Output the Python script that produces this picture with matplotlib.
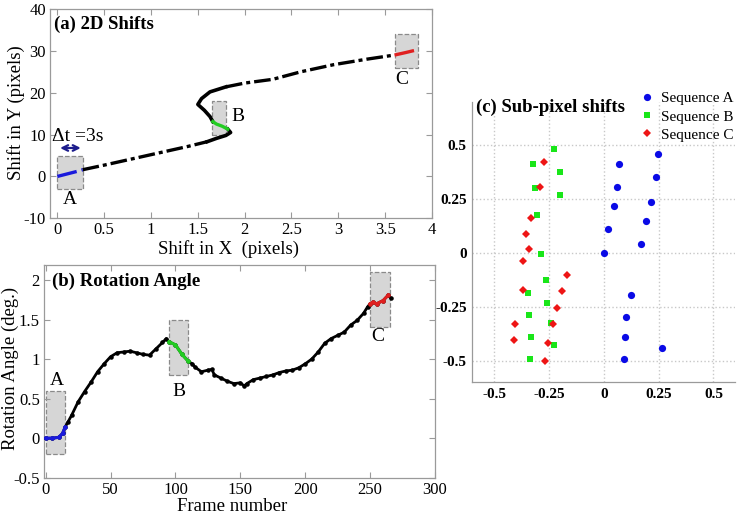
import numpy as np
import matplotlib
matplotlib.use("Agg")
import matplotlib.pyplot as plt
from matplotlib.patches import Rectangle

plt.rcParams["font.family"] = ["Liberation Serif", "DejaVu Serif"]
plt.rcParams["axes.unicode_minus"] = False

# --- (a) 2D shifts: trajectory pieces ---
a_blue_x = [0.0, 0.07, 0.14, 0.21, 0.27]
a_blue_y = [0.0, 0.4, 0.8, 1.2, 1.6]
a_black_low_x = [0.27, 0.5, 0.8, 1.1, 1.4, 1.6]
a_black_low_y = [1.6, 2.7, 4.2, 5.7, 7.2, 8.3]
a_bend_low_x = [1.6, 1.7, 1.8, 1.85, 1.82]
a_bend_low_y = [8.3, 9.1, 9.8, 10.5, 11.3]
a_green_x = [1.82, 1.76, 1.70, 1.66]
a_green_y = [11.3, 12.0, 12.5, 13.1]
a_bend_high_x = [1.66, 1.63, 1.57, 1.50, 1.54, 1.63, 1.8]
a_bend_high_y = [13.1, 14.3, 15.8, 17.2, 18.6, 20.2, 21.4]
a_black_high_x = [1.8, 2.0, 2.3, 2.6, 2.95, 3.3, 3.6]
a_black_high_y = [21.4, 22.3, 23.2, 25.0, 26.7, 28.0, 29.0]
a_red_x = [3.6, 3.72, 3.85]
a_red_y = [29.0, 29.6, 30.3]

# gray windows: (x0, x1, y0, y1), label position
a_boxes = {"A": (0.0, 0.27, -3, 5), "B": (1.65, 1.8, 10, 18), "C": (3.6, 3.85, 26, 34)}
a_labels = {"A": (0.135, -5.6), "B": (1.93, 14.3), "C": (3.68, 23.1)}

# --- (b) rotation angle ---
b_frames = [0, 5, 10, 13, 15, 17, 20, 25, 30, 35, 40, 45, 50, 55, 60, 65, 70, 75,
            80, 85, 90, 93, 95, 100, 105, 110, 113, 115, 120, 125, 128, 130, 135,
            140, 145, 150, 153, 155, 160, 165, 170, 175, 180, 185, 190, 195, 200,
            205, 210, 215, 220, 225, 230, 235, 240, 245, 248, 250, 252, 255, 260,
            264, 266]
b_angle = [0.0, 0.0, 0.01, 0.06, 0.14, 0.2, 0.29, 0.46, 0.59, 0.71, 0.84, 0.94,
           1.03, 1.08, 1.09, 1.10, 1.08, 1.06, 1.05, 1.13, 1.21, 1.26, 1.22, 1.18,
           1.06, 0.97, 0.94, 0.90, 0.84, 0.86, 0.87, 0.80, 0.76, 0.72, 0.69, 0.70,
           0.66, 0.69, 0.74, 0.76, 0.78, 0.80, 0.83, 0.85, 0.86, 0.89, 0.94, 1.00,
           1.09, 1.20, 1.26, 1.30, 1.34, 1.43, 1.49, 1.58, 1.66, 1.70, 1.72, 1.70,
           1.74, 1.81, 1.77]
b_boxes = {"A": (0, 15, -0.2, 0.6), "B": (95, 110, 0.8, 1.5), "C": (250, 265, 1.4, 2.1)}
b_labels = {"A": (9, 0.73), "B": (103, 0.59), "C": (256, 1.29)}

# --- (c) sub-pixel shifts ---
seqA_x = [0.248, 0.071, 0.238, 0.061, 0.214, 0.045, 0.194, 0.018, 0.171, 0.0,
          0.122, 0.102, 0.099, 0.265, 0.091]
seqA_y = [0.457, 0.412, 0.350, 0.304, 0.236, 0.217, 0.146, 0.110, 0.039, 0.0,
          -0.194, -0.297, -0.388, -0.443, -0.494]
seqB_x = [-0.227, -0.324, -0.202, -0.315, -0.202, -0.306, -0.288, -0.265, -0.345,
          -0.258, -0.341, -0.242, -0.330, -0.229, -0.335]
seqB_y = [0.483, 0.411, 0.374, 0.300, 0.269, 0.174, -0.006, -0.124, -0.186,
          -0.233, -0.286, -0.323, -0.391, -0.427, -0.492]
seqC_x = [-0.274, -0.291, -0.333, -0.355, -0.341, -0.370, -0.168, -0.370, -0.192,
          -0.215, -0.230, -0.405, -0.412, -0.256, -0.267]
seqC_y = [0.422, 0.303, 0.161, 0.089, 0.019, -0.039, -0.104, -0.174, -0.175,
          -0.258, -0.328, -0.331, -0.404, -0.416, -0.500]

BLUE = "#1a1adc"
GREEN = "#22cc22"
RED = "#e02020"
SPINE = "#9a9a9a"
dashdot = (0, (5, 1.2, 1.2, 1.2))


def matlab_box(ax):
    for s in ax.spines.values():
        s.set_color(SPINE)
        s.set_linewidth(0.9)
    ax.tick_params(direction="in", top=True, right=True, length=4,
                   color=SPINE, labelsize=12, pad=3)


def gray_box(ax, x0, x1, y0, y1):
    ax.add_patch(Rectangle((x0, y0), x1 - x0, y1 - y0, facecolor="#d6d6d6",
                           edgecolor="#8a8a8a", linestyle="--", linewidth=0.9,
                           zorder=1))


fig = plt.figure(figsize=(7.4, 5.18), dpi=100)
W, H = 740.0, 518.0

# ---------------- (a) ----------------
ax1 = fig.add_axes([50 / W, 1 - 218.3 / H, 382 / W, 209.3 / H])
for k, (x0, x1, y0, y1) in a_boxes.items():
    gray_box(ax1, x0, x1, y0, y1)
    ax1.text(*a_labels[k], k, ha="center", va="center", fontsize=14)
ax1.plot(a_black_low_x, a_black_low_y, color="k", lw=2.4, ls=dashdot, zorder=3)
ax1.plot(a_bend_low_x, a_bend_low_y, color="k", lw=2.6, zorder=3)
ax1.plot(a_bend_high_x, a_bend_high_y, color="k", lw=2.6, zorder=3)
ax1.plot(a_black_high_x, a_black_high_y, color="k", lw=2.4, ls=dashdot, zorder=3)
ax1.plot(a_blue_x, a_blue_y, color=BLUE, lw=2.4, ls=(0, (6, 1.5)), zorder=4)
ax1.plot(a_green_x, a_green_y, color=GREEN, lw=2.4, zorder=4)
ax1.plot(a_red_x, a_red_y, color=RED, lw=2.4, ls=(0, (6, 1.5)), zorder=4)
ax1.annotate("", xy=(0.0, 6.8), xytext=(0.28, 6.8),
             arrowprops=dict(arrowstyle="<->", color="#1c1c8c", lw=1.6))
ax1.text(-0.06, 9.6, "Δt =3s", fontsize=14, va="center", ha="left")
ax1.set_xlim(-0.078, 4)
ax1.set_ylim(-10, 40)
ax1.set_xticks(np.arange(0, 4.01, 0.5))
ax1.set_xticklabels(["0", "0.5", "1", "1.5", "2", "2.5", "3", "3.5", "4"])
ax1.set_yticks(np.arange(-10, 41, 10))
matlab_box(ax1)
ax1.set_xlabel("Shift in X  (pixels)", fontsize=13.5)
ax1.set_ylabel("Shift in Y (pixels)", fontsize=13.5)
ax1.xaxis.set_label_coords((229 - 50) / 382, -(240 - 218.3) / 209.3)
ax1.yaxis.set_label_coords(-(50 - 25) / 382, (218.3 - 113) / 209.3)
fig.text(54 / W, 1 - 16 / H, "(a) 2D Shifts", fontsize=13.5, fontweight="bold",
         va="top")

# ---------------- (b) ----------------
ax2 = fig.add_axes([44 / W, 1 - 477.7 / H, 391 / W, 212.7 / H])
for k, (x0, x1, y0, y1) in b_boxes.items():
    gray_box(ax2, x0, x1, y0, y1)
    ax2.text(*b_labels[k], k, ha="center", va="center", fontsize=14)
fr = np.array(b_frames)
ang = np.array(b_angle)
ax2.plot(fr, ang, color="k", lw=2.0, marker=".", ms=4.5, zorder=3)
for lo, hi, c in [(0, 15, BLUE), (95, 110, GREEN), (250, 264, RED)]:
    m = (fr >= lo) & (fr <= hi)
    ax2.plot(fr[m], ang[m], color=c, lw=2.2, marker=".", ms=4.5, zorder=4)
ax2.set_xlim(-1.3, 300)
ax2.set_ylim(-0.5, 2.19)
ax2.set_xticks(np.arange(0, 301, 50))
ax2.set_yticks([-0.5, 0, 0.5, 1, 1.5, 2])
ax2.set_yticklabels(["-0.5", "0", "0.5", "1", "1.5", "2"])
matlab_box(ax2)
ax2.set_xlabel("Frame number", fontsize=13.5)
ax2.set_ylabel("Rotation Angle (deg.)", fontsize=13.5)
ax2.xaxis.set_label_coords((232 - 44) / 391, -(498 - 477.7) / 212.7)
ax2.yaxis.set_label_coords(-(44 - 19) / 391, (477.7 - 368) / 212.7)
fig.text(52 / W, 1 - 273 / H, "(b) Rotation Angle", fontsize=13.5,
         fontweight="bold", va="top")

# ---------------- (c) ----------------
ax3 = fig.add_axes([472.3 / W, 1 - 382.3 / H, 263 / W, 280.6 / H])
ax3.plot(seqA_x, seqA_y, "o", color="#0a0ae6", ms=5.2, mew=0, label="Sequence A")
ax3.plot(seqB_x, seqB_y, "s", color="#19e619", ms=4.3, mew=0, label="Sequence B")
ax3.plot(seqC_x, seqC_y, "D", color="#ee1515", ms=4.0, mew=0, label="Sequence C")
ax3.set_xlim(-0.6, 0.6)
ax3.set_ylim(-0.6, 0.7)
ticks = [-0.5, -0.25, 0, 0.25, 0.5]
ticklabels = ["-0.5", "-0.25", "0", "0.25", "0.5"]
ax3.set_xticks(ticks)
ax3.set_xticklabels(ticklabels)
ax3.set_yticks(ticks)
ax3.set_yticklabels(ticklabels)
ax3.grid(True, color="#c8c8c8", ls=":", lw=1.0)
ax3.set_axisbelow(True)
for s in ["top", "right"]:
    ax3.spines[s].set_visible(False)
for s in ["left", "bottom"]:
    ax3.spines[s].set_color(SPINE)
    ax3.spines[s].set_linewidth(0.9)
ax3.tick_params(length=0, labelsize=11, pad=4)
for lab in ax3.get_xticklabels() + ax3.get_yticklabels():
    lab.set_fontweight("bold")
ax3.legend(loc="upper left", bbox_to_anchor=(641 / W, 1 - 90 / H),
           bbox_transform=fig.transFigure, frameon=False, fontsize=11,
           handlelength=0.6, handletextpad=0.6, labelspacing=0.3,
           borderpad=0.1, borderaxespad=0)
fig.text(476 / W, 1 - 99 / H, "(c) Sub-pixel shifts", fontsize=13.5,
         fontweight="bold", va="top")

fig.savefig("out.png", dpi=100)
